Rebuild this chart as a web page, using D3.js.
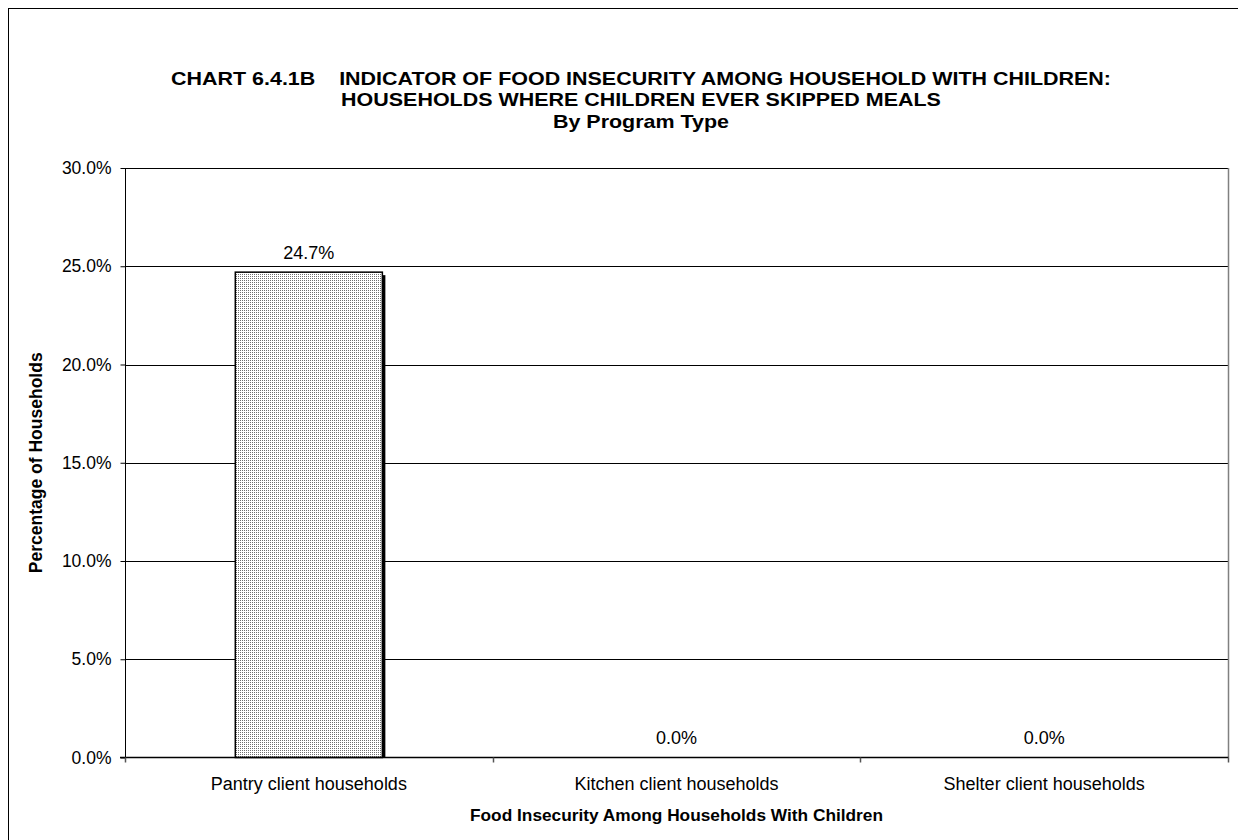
<!DOCTYPE html>
<html>
<head>
<meta charset="utf-8">
<script src="https://cdn.jsdelivr.net/npm/d3@7"></script>
<style>
  html, body { margin: 0; padding: 0; background: #fff; }
  svg { display: block; font-family: "Liberation Sans", Arial, sans-serif; }
</style>
</head>
<body>
<svg id="chart" width="1238" height="840"></svg>
<script>
const categories = ["Pantry client households", "Kitchen client households", "Shelter client households"];
const values = [24.7, 0.0, 0.0];
const yTicks = [0, 5, 10, 15, 20, 25, 30];
const titleLines = [
  "CHART 6.4.1B    INDICATOR OF FOOD INSECURITY AMONG HOUSEHOLD WITH CHILDREN:",
  "HOUSEHOLDS WHERE CHILDREN EVER SKIPPED MEALS",
  "By Program Type"
];
const xTitle = "Food Insecurity Among Households With Children";
const yTitle = "Percentage of Households";

const svg = d3.select("#chart");
const W = 1238, H = 840;
const plot = { left: 125, top: 168, right: 1228, bottom: 757.5 };

// outer frame
svg.append("rect")
  .attr("x", 8.5).attr("y", 8.5)
  .attr("width", W).attr("height", H)
  .attr("fill", "none").attr("stroke", "#000").attr("stroke-width", 1);

// pattern
const defs = svg.append("defs");
const pat = defs.append("pattern").attr("id", "dots")
  .attr("patternUnits", "userSpaceOnUse").attr("width", 2).attr("height", 2);
pat.append("rect").attr("width", 2).attr("height", 2).attr("fill", "#fff");
pat.append("rect").attr("width", 1).attr("height", 1).attr("fill", "#6e6e6e");

const x = d3.scaleBand().domain(categories).range([plot.left, plot.right]).paddingInner(0).paddingOuter(0);
const y = d3.scaleLinear().domain([0, 30]).range([plot.bottom, plot.top]);

// title (slightly wide glyphs as in the reference)
const title = svg.append("g")
  .attr("transform", "translate(641,0) scale(1.13,1)")
  .attr("font-weight", "bold").attr("font-size", 19).attr("text-anchor", "middle");
titleLines.forEach((t, i) => {
  title.append("text").attr("x", 0).attr("y", 85 + i * 21.5)
    .style("white-space", "pre").attr("xml:space", "preserve").text(t);
});

// gridlines
svg.append("g").selectAll("line").data(yTicks.filter(d => d > 0)).join("line")
  .attr("x1", plot.left).attr("x2", plot.right)
  .attr("y1", d => Math.round(y(d)) + 0.5).attr("y2", d => Math.round(y(d)) + 0.5)
  .attr("stroke", "#000").attr("stroke-width", 1);

// plot area right border (gray)
svg.append("line")
  .attr("x1", plot.right + 0.5).attr("x2", plot.right + 0.5)
  .attr("y1", plot.top).attr("y2", plot.bottom)
  .attr("stroke", "#808080").attr("stroke-width", 1.5);

// bars
const barW = x.bandwidth() * 0.4;
const bars = svg.append("g");
const data = categories.map((c, i) => ({ c, v: values[i] }));
bars.selectAll("rect.shadow").data(data.filter(d => d.v > 0)).join("rect")
  .attr("class", "shadow")
  .attr("x", d => x(d.c) + (x.bandwidth() - barW) / 2 + 3)
  .attr("y", d => y(d.v) + 3)
  .attr("width", barW)
  .attr("height", d => plot.bottom - y(d.v) - 3)
  .attr("fill", "#000");
bars.selectAll("rect.bar").data(data.filter(d => d.v > 0)).join("rect")
  .attr("class", "bar")
  .attr("x", d => x(d.c) + (x.bandwidth() - barW) / 2)
  .attr("y", d => y(d.v))
  .attr("width", barW)
  .attr("height", d => plot.bottom - y(d.v))
  .attr("fill", "url(#dots)")
  .attr("stroke", "#000").attr("stroke-width", 1.5);

// value labels
svg.append("g").attr("font-size", 18).attr("text-anchor", "middle").attr("fill", "#000")
  .selectAll("text").data(data).join("text")
  .attr("x", d => x(d.c) + x.bandwidth() / 2)
  .attr("y", d => y(d.v) - 13.5)
  .text(d => d.v.toFixed(1) + "%");

// y axis
const yAxis = d3.axisLeft(y).tickValues(yTicks).tickSize(5).tickPadding(9)
  .tickFormat(d => d.toFixed(1) + "%");
const yg = svg.append("g").attr("transform", `translate(${plot.left + 0.5},0)`).call(yAxis);
yg.select(".domain").attr("stroke", "#000").attr("d", `M-0,${plot.top}V${plot.bottom}`);
yg.selectAll(".tick line").attr("stroke", "#000");
yg.selectAll(".tick text").attr("font-size", 17.5).attr("font-family", "Liberation Sans, Arial, sans-serif").attr("fill", "#000");

// x axis
const xg = svg.append("g").attr("transform", `translate(0,${plot.bottom})`);
xg.append("line").attr("x1", plot.left - 5).attr("x2", plot.right + 0.5)
  .attr("y1", 0).attr("y2", 0).attr("stroke", "#000").attr("stroke-width", 1.5);
const bounds = categories.map(c => x(c)).concat([plot.right]);
xg.selectAll("line.tk").data(bounds).join("line").attr("class", "tk")
  .attr("x1", d => Math.round(d) + 0.5).attr("x2", d => Math.round(d) + 0.5)
  .attr("y1", 0).attr("y2", 5).attr("stroke", "#555").attr("stroke-width", 1.5);
xg.selectAll("text").data(categories).join("text")
  .attr("x", d => x(d) + x.bandwidth() / 2).attr("y", 32.5)
  .attr("text-anchor", "middle").attr("font-size", 18).attr("fill", "#000")
  .text(d => d);

// axis titles
svg.append("text").attr("x", (plot.left + plot.right) / 2).attr("y", 821)
  .attr("text-anchor", "middle").attr("font-weight", "bold").attr("font-size", 17.3)
  .text(xTitle);
svg.append("text")
  .attr("transform", `translate(42,${(plot.top + plot.bottom) / 2}) rotate(-90)`)
  .attr("text-anchor", "middle").attr("font-weight", "bold").attr("font-size", 17.5)
  .text(yTitle);
</script>
</body>
</html>
